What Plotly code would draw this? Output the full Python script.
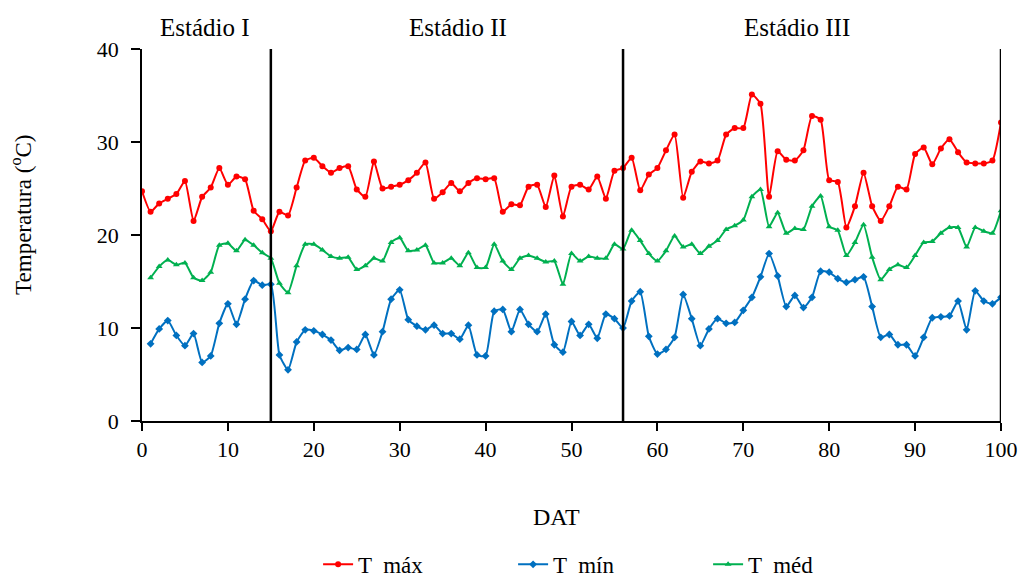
import plotly.graph_objects as go

days_max = list(range(0, 101))
t_max = [24.7, 22.5, 23.4, 23.9, 24.4, 25.8, 21.5, 24.1, 25.1, 27.2, 25.4, 26.3, 26.0, 22.6, 21.7, 20.4,
         22.5, 22.1, 25.1, 28.0, 28.3, 27.4, 26.7, 27.2, 27.4, 24.9,
         24.1, 27.9, 25.0, 25.2, 25.4, 25.9, 26.7, 27.8, 23.9, 24.6, 25.6, 24.7, 25.6, 26.1, 26.0,
         26.1, 22.5, 23.3, 23.2, 25.2, 25.4, 23.0, 26.4, 22.0, 25.2,
         25.4, 24.9, 26.3, 23.9, 26.9, 27.2, 28.3, 24.8, 26.5, 27.2, 29.1, 30.8, 24.0, 26.8, 27.9,
         27.7, 28.0, 30.8, 31.5, 31.5, 35.1, 34.1, 24.1, 29.0, 28.1,
         28.0, 29.1, 32.8, 32.4, 25.9, 25.7, 20.8, 23.1, 26.7, 23.1, 21.5, 23.1, 25.2, 24.9, 28.7,
         29.4, 27.6, 29.3, 30.3, 28.9, 27.8, 27.7, 27.7, 28.0, 32.1]

days = list(range(1, 101))
t_min = [8.3, 9.9, 10.8, 9.2, 8.1, 9.4, 6.3, 7.0, 10.5, 12.6, 10.4, 13.1, 15.1, 14.6, 14.7,
         7.1, 5.5, 8.5, 9.8, 9.7, 9.3, 8.7, 7.6, 7.9, 7.7,
         9.3, 7.1, 9.6, 13.1, 14.1, 10.9, 10.2, 9.8, 10.3, 9.4, 9.4, 8.8, 10.3, 7.1, 7.0,
         11.8, 12.0, 9.6, 12.0, 10.4, 9.6, 11.5, 8.2, 7.4, 10.7,
         9.2, 10.4, 8.9, 11.5, 11.0, 10.0, 12.9, 13.9, 9.1, 7.2, 7.7, 9.0, 13.6, 11.0, 8.1,
         9.9, 11.0, 10.5, 10.6, 11.9, 13.3, 15.5, 18.0, 15.6, 12.3,
         13.5, 12.2, 13.3, 16.1, 16.0, 15.3, 14.9, 15.2, 15.5, 12.3, 9.0, 9.3, 8.2, 8.2, 7.0,
         9.0, 11.1, 11.2, 11.3, 12.9, 9.8, 14.0, 12.9, 12.6, 13.3]

t_med = [15.4, 16.6, 17.3, 16.8, 17.0, 15.4, 15.1, 16.0, 18.9, 19.1, 18.3, 19.5, 18.9, 18.1, 17.5,
         14.8, 13.8, 16.7, 19.0, 19.0, 18.4, 17.7, 17.5, 17.6, 16.3,
         16.7, 17.5, 17.2, 19.2, 19.7, 18.3, 18.4, 18.9, 17.0, 17.0, 17.5, 16.7, 18.1, 16.5, 16.5,
         19.0, 17.2, 16.3, 17.5, 17.8, 17.5, 17.1, 17.2, 14.7, 18.0,
         17.2, 17.7, 17.5, 17.5, 19.0, 18.5, 20.5, 19.4, 18.0, 17.2, 18.3, 19.9, 18.7, 19.0, 18.0,
         18.8, 19.4, 20.6, 21.0, 21.6, 24.1, 24.9, 20.9, 22.4, 20.2,
         20.7, 20.6, 23.1, 24.2, 20.9, 20.5, 17.8, 19.2, 21.1, 17.6, 15.2, 16.3, 16.8, 16.5, 17.8,
         19.2, 19.3, 20.2, 20.8, 20.8, 18.7, 20.8, 20.4, 20.2, 22.6]

stage_bounds = [15, 56, 100]
stage_labels = ["Estádio I", "Estádio II", "Estádio III"]
stage_label_x = [7.3, 36.8, 76.3]

FONT = "Liberation Serif"

fig = go.Figure()
fig.add_trace(go.Scatter(x=days_max, y=t_max, name="T  máx", mode="lines+markers",
                         line=dict(color="#FF0000", width=2, shape="spline", smoothing=0.5),
                         marker=dict(symbol="circle", size=6, color="#FF0000")))
fig.add_trace(go.Scatter(x=days, y=t_min, name="T  mín", mode="lines+markers",
                         line=dict(color="#0070C0", width=2, shape="spline", smoothing=0.5),
                         marker=dict(symbol="diamond", size=6, color="#0070C0")))
fig.add_trace(go.Scatter(x=days, y=t_med, name="T  méd", mode="lines+markers",
                         line=dict(color="#00B050", width=2, shape="spline", smoothing=0.5),
                         marker=dict(symbol="triangle-up", size=6, color="#00B050")))

for b in stage_bounds:
    fig.add_shape(type="line", xref="x", yref="y", x0=b, x1=b, y0=0, y1=40,
                  line=dict(color="black", width=2.5), layer="above")

for lab, lx in zip(stage_labels, stage_label_x):
    fig.add_annotation(text=lab, x=lx, xref="x", y=1.057, yref="paper", showarrow=False,
                       yanchor="middle", xanchor="center", font=dict(family=FONT, size=25, color="black"))

fig.add_annotation(text="Temperatura (<sup>o</sup>C)", x=-0.1397, xref="paper", y=0.554, yref="paper",
                   showarrow=False, textangle=-90, xanchor="center", yanchor="middle",
                   font=dict(family=FONT, size=23, color="black"))
fig.add_annotation(text="DAT", x=0.483, xref="paper", y=-0.258, yref="paper",
                   showarrow=False, xanchor="center", yanchor="middle",
                   font=dict(family=FONT, size=24, color="black"))

fig.update_layout(
    width=1028, height=580,
    margin=dict(l=142, r=27, t=49, b=159, autoexpand=False),
    paper_bgcolor="white", plot_bgcolor="white",
    font=dict(family=FONT, size=22, color="black"),
    showlegend=True,
    legend=dict(orientation="h", x=0.205, xanchor="left", y=0.027, yref="container", yanchor="middle",
                entrywidth=150, entrywidthmode="pixels", tracegroupgap=0,
                font=dict(family=FONT, size=23, color="black")),
    xaxis=dict(range=[0, 100], tickmode="linear", tick0=0, dtick=10, showgrid=False, zeroline=False,
               showline=True, linecolor="black", linewidth=1.5, ticks="outside", ticklen=8,
               tickcolor="black", tickwidth=1.5, tickfont=dict(family=FONT, size=22), automargin=False),
    yaxis=dict(range=[0, 40], tickmode="linear", tick0=0, dtick=10, showgrid=False, zeroline=False,
               showline=True, linecolor="black", linewidth=1.5, ticks="outside", ticklen=9,
               tickcolor="black", tickwidth=1.5, tickfont=dict(family=FONT, size=22), automargin=False,
               ticklabelstandoff=8),
)

fig.write_html("out.html")
